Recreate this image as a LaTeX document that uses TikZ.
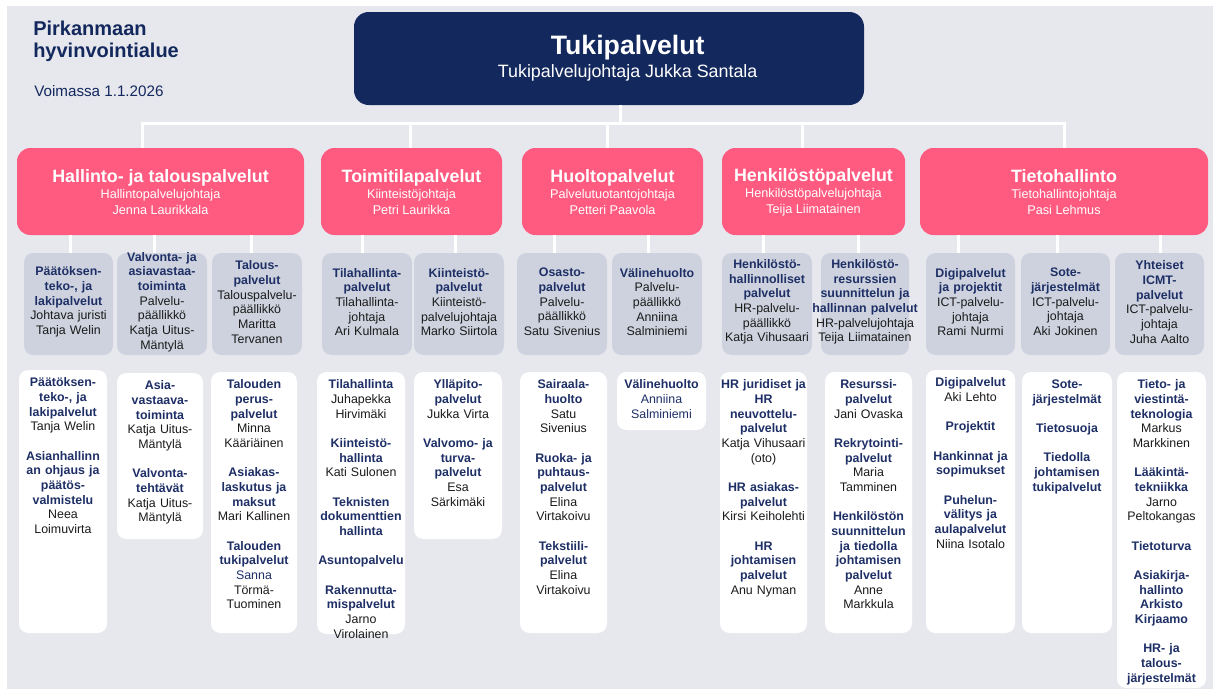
\documentclass[tikz,border=0pt]{standalone}
\usepackage{fontspec}
\setmainfont{Liberation Sans}
\usetikzlibrary{positioning,fit}

\definecolor{pageback}{HTML}{E7E8EE}
\definecolor{pirnavy}{HTML}{13285D}
\definecolor{pirpink}{HTML}{FF5A7F}
\definecolor{unitgrey}{HTML}{CDD2DE}
\definecolor{headtext}{HTML}{1E2F66}
\definecolor{nametext}{HTML}{1A1A1A}

\pgfdeclarelayer{background}
\pgfsetlayers{background,main}

\newcommand{\hd}[1]{{\bfseries\color{headtext}#1}}
\newcommand{\nv}[1]{{\color{headtext}#1}}
\newcommand{\gap}{\\[11pt]}
\newcommand{\cardfont}{\fontsize{9.3}{11}\selectfont}
\newcommand{\areatitle}{\fontsize{13.4}{12}\selectfont\bfseries}

\tikzset{
  every node/.style={inner sep=0pt},
  leafbox/.style={rounded corners=7pt, fill=#1},
  mainbox/.style={leafbox=pirnavy, rounded corners=11pt},
  areabox/.style={leafbox=pirpink, rounded corners=10pt},
  areatext/.style={text=white, align=center, font=\fontsize{9.5}{12}\selectfont},
  unitbox/.style={leafbox=unitgrey},
  unittext/.style={text width=84pt, text=nametext, align=center, font=\cardfont},
  teambox/.style={leafbox=white},
  teamtext/.style={anchor=north, text width=80pt, text=nametext, align=center, font=\cardfont},
  link/.style={draw=white, line width=2.25pt},
}

\begin{document}
\begin{tikzpicture}[x=0.75pt, y=-0.75pt]
\useasboundingbox (0,0) rectangle (1213,689);
\fill[white] (0,0) rectangle (1213,689);
\fill[pageback] (7,6) rectangle (1213,689);

% header
\node[anchor=north west, text=pirnavy, align=left, font=\fontsize{15}{16.5}\selectfont\bfseries]
  (org) at (33,21) {Pirkanmaan\\hyvinvointialue};
\node[anchor=west, text=pirnavy, font=\fontsize{11.4}{13}\selectfont] (valid) at (34,91) {Voimassa 1.1.2026};

% top level
\node[mainbox, fit={(354,12) (864,105)}] (tuki) {};
\node[text=white, align=center, font=\fontsize{13.4}{17.25}\selectfont] (tukiname) at ([xshift=14pt]tuki.center)
  {{\fontsize{20}{20}\selectfont\bfseries Tukipalvelut}\\Tukipalvelujohtaja Jukka Santala};

% areas
\node[areabox, fit={(17,148) (304,235)}] (hal) {};
\node[areabox, fit={(321,148) (502,235)}] (toim) {};
\node[areabox, fit={(522,148) (703,235)}] (huol) {};
\node[areabox, fit={(722,148) (905,235)}] (henk) {};
\node[areabox, fit={(920,148) (1208,235)}] (tieto) {};

\node[areatext] (hal-txt) at ([yshift=-0.75pt]hal.center)
  {{\areatitle Hallinto- ja talouspalvelut}\\Hallintopalvelujohtaja\\Jenna Laurikkala};
\node[areatext] (toim-txt) at ([yshift=-0.75pt]toim.center)
  {{\areatitle Toimitilapalvelut}\\Kiinteistöjohtaja\\Petri Laurikka};
\node[areatext] (huol-txt) at ([yshift=-0.75pt]huol.center)
  {{\areatitle Huoltopalvelut}\\Palvelutuotantojohtaja\\Petteri Paavola};
\node[areatext] (henk-txt) at ([yshift=-0.75pt]henk.center)
  {{\areatitle Henkilöstöpalvelut}\\Henkilöstöpalvelujohtaja\\Teija Liimatainen};
\node[areatext] (tieto-txt) at ([yshift=-0.75pt]tieto.center)
  {{\areatitle Tietohallinto}\\Tietohallintojohtaja\\Pasi Lehmus};

% units
\node[unitbox, fit={(24,253) (113,355)}] (ulaki) {};
\node[unitbox, fit={(117,253) (207,355)}] (uvalvo) {};
\node[unitbox, fit={(212,253) (302,355)}] (utalous) {};
\node[unitbox, fit={(322,253) (412,355)}] (utila) {};
\node[unitbox, fit={(414,253) (504,355)}] (ukiint) {};
\node[unitbox, fit={(517,253) (607,355)}] (uosasto) {};
\node[unitbox, fit={(612,253) (702,355)}] (uvaline) {};
\node[unitbox, fit={(722,253) (812,355)}] (uhrhal) {};
\node[unitbox, fit={(821,253) (909,355)}] (uhrres) {};
\node[unitbox, fit={(926,253) (1015,355)}] (udigi) {};
\node[unitbox, fit={(1021,253) (1110,355)}] (usote) {};
\node[unitbox, fit={(1115,253) (1204,355)}] (uicmt) {};

\node[unittext] (ulaki-txt) at ([yshift=1.5pt]ulaki.center)
  {\hd{Päätöksen-\\teko-, ja\\lakipalvelut}\\Johtava juristi\\Tanja Welin};
\node[unittext] (uvalvo-txt) at ([yshift=1.5pt]uvalvo.center)
  {\hd{Valvonta- ja\\asiavastaa-\\toiminta}\\Palvelu-\\päällikkö\\Katja Uitus-\\Mäntylä};
\node[unittext] (utalous-txt) at ([yshift=1.5pt]utalous.center)
  {\hd{Talous-\\palvelut}\\Talouspalvelu-\\päällikkö\\Maritta\\Tervanen};
\node[unittext] (utila-txt) at ([yshift=1.5pt]utila.center)
  {\hd{Tilahallinta-\\palvelut}\\Tilahallinta-\\johtaja\\Ari Kulmala};
\node[unittext] (ukiint-txt) at ([yshift=1.5pt]ukiint.center)
  {\hd{Kiinteistö-\\palvelut}\\Kiinteistö-\\palvelujohtaja\\Marko Siirtola};
\node[unittext] (uosasto-txt) at ([yshift=1.5pt]uosasto.center)
  {\hd{Osasto-\\palvelut}\\Palvelu-\\päällikkö\\Satu Sivenius};
\node[unittext] (uvaline-txt) at ([yshift=1.5pt]uvaline.center)
  {\hd{Välinehuolto}\\Palvelu-\\päällikkö\\Anniina\\Salminiemi};
\node[unittext] (uhrhal-txt) at ([yshift=1.5pt]uhrhal.center)
  {\hd{Henkilöstö-\\hallinnolliset\\palvelut}\\HR-palvelu-\\päällikkö\\Katja Vihusaari};
\node[unittext] (uhrres-txt) at ([yshift=1.5pt]uhrres.center)
  {\hd{Henkilöstö-\\resurssien\\suunnittelun ja\\hallinnan palvelut}\\HR-palvelujohtaja\\Teija Liimatainen};
\node[unittext] (udigi-txt) at ([yshift=1.5pt]udigi.center)
  {\hd{Digipalvelut\\ja projektit}\\ICT-palvelu-\\johtaja\\Rami Nurmi};
\node[unittext] (usote-txt) at ([yshift=1.5pt]usote.center)
  {\hd{Sote-\\järjestelmät}\\ICT-palvelu-\\johtaja\\Aki Jokinen};
\node[unittext] (uicmt-txt) at ([yshift=1.5pt]uicmt.center)
  {\hd{Yhteiset\\ICMT-\\palvelut}\\ICT-palvelu-\\johtaja\\Juha Aalto};

% teams
\node[teambox, fit={(19,370) (107,633)}] (tlaki) {};
\node[teambox, fit={(117,373) (203,539)}] (tvalvo) {};
\node[teambox, fit={(211,372) (297,633)}] (ttalous) {};
\node[teambox, fit={(317,372) (405,634)}] (ttila) {};
\node[teambox, fit={(414,372) (502,539)}] (tkiint) {};
\node[teambox, fit={(520,372) (607,633)}] (tosasto) {};
\node[teambox, fit={(617,372) (706,430)}] (tvaline) {};
\node[teambox, fit={(720,372) (807,633)}] (thrhal) {};
\node[teambox, fit={(825,372) (912,633)}] (thrres) {};
\node[teambox, fit={(926,370) (1015,633)}] (tdigi) {};
\node[teambox, fit={(1022,372) (1112,633)}] (tsote) {};
\node[teambox, fit={(1117,372) (1206,688)}] (ticmt) {};

\node[teamtext] (tlaki-txt) at ([yshift=-6pt]tlaki.north)
  {\hd{Päätöksen-\\teko-, ja\\lakipalvelut}\\Tanja Welin\gap
   \hd{Asianhallinn\\an ohjaus ja\\päätös-\\valmistelu}\\Neea\\Loimuvirta};
\node[teamtext] (tvalvo-txt) at ([yshift=-6pt]tvalvo.north)
  {\hd{Asia-\\vastaava-\\toiminta}\\Katja Uitus-\\Mäntylä\gap
   \hd{Valvonta-\\tehtävät}\\Katja Uitus-\\Mäntylä};
\node[teamtext] (ttalous-txt) at ([yshift=-6pt]ttalous.north)
  {\hd{Talouden\\perus-\\palvelut}\\Minna\\Kääriäinen\gap
   \hd{Asiakas-\\laskutus ja\\maksut}\\Mari Kallinen\gap
   \hd{Talouden\\tukipalvelut}\\\nv{Sanna}\\Törmä-\\Tuominen};
\node[teamtext] (ttila-txt) at ([yshift=-6pt]ttila.north)
  {\hd{Tilahallinta}\\Juhapekka\\Hirvimäki\gap
   \hd{Kiinteistö-\\hallinta}\\Kati Sulonen\gap
   \hd{Teknisten\\dokumenttien\\hallinta}\gap
   \hd{Asuntopalvelu}\gap
   \hd{Rakennutta-\\mispalvelut}\\Jarno\\Virolainen};
\node[teamtext] (tkiint-txt) at ([yshift=-6pt]tkiint.north)
  {\hd{Ylläpito-\\palvelut}\\Jukka Virta\gap
   \hd{Valvomo- ja\\turva-\\palvelut}\\Esa\\Särkimäki};
\node[teamtext] (tosasto-txt) at ([yshift=-6pt]tosasto.north)
  {\hd{Sairaala-\\huolto}\\Satu\\Sivenius\gap
   \hd{Ruoka- ja\\puhtaus-\\palvelut}\\Elina\\Virtakoivu\gap
   \hd{Tekstiili-\\palvelut}\\Elina\\Virtakoivu};
\node[teamtext] (tvaline-txt) at ([yshift=-6pt]tvaline.north)
  {\hd{Välinehuolto}\\\nv{Anniina}\\\nv{Salminiemi}};
\node[teamtext] (thrhal-txt) at ([yshift=-6pt]thrhal.north)
  {\hd{HR juridiset ja\\HR\\neuvottelu-\\palvelut}\\Katja Vihusaari\\(oto)\gap
   \hd{HR asiakas-\\palvelut}\\Kirsi Keiholehti\gap
   \hd{HR\\johtamisen\\palvelut}\\Anu Nyman};
\node[teamtext] (thrres-txt) at ([yshift=-6pt]thrres.north)
  {\hd{Resurssi-\\palvelut}\\Jani Ovaska\gap
   \hd{Rekrytointi-\\palvelut}\\Maria\\Tamminen\gap
   \hd{Henkilöstön\\suunnittelun\\ja tiedolla\\johtamisen\\palvelut}\\Anne\\Markkula};
\node[teamtext] (tdigi-txt) at ([yshift=-6pt]tdigi.north)
  {\hd{Digipalvelut}\\Aki Lehto\gap
   \hd{Projektit}\gap
   \hd{Hankinnat ja\\sopimukset}\gap
   \hd{Puhelun-\\välitys ja\\aulapalvelut}\\Niina Isotalo};
\node[teamtext] (tsote-txt) at ([yshift=-6pt]tsote.north)
  {\hd{Sote-\\järjestelmät}\gap
   \hd{Tietosuoja}\gap
   \hd{Tiedolla\\johtamisen\\tukipalvelut}};
\node[teamtext] (ticmt-txt) at ([yshift=-6pt]ticmt.north)
  {\hd{Tieto- ja\\viestintä-\\teknologia}\\Markus\\Markkinen\gap
   \hd{Lääkintä-\\tekniikka}\\Jarno\\Peltokangas\gap
   \hd{Tietoturva}\gap
   \hd{Asiakirja-\\hallinto\\Arkisto\\Kirjaamo}\gap
   \hd{HR- ja\\talous-\\järjestelmät}};

% square corners of the leaf shapes
\begin{pgfonlayer}{background}
\foreach \n/\c in {tuki/pirnavy, hal/pirpink, toim/pirpink, huol/pirpink, henk/pirpink, tieto/pirpink,
    ulaki/unitgrey, uvalvo/unitgrey, utalous/unitgrey, utila/unitgrey, ukiint/unitgrey, uosasto/unitgrey,
    uvaline/unitgrey, uhrhal/unitgrey, uhrres/unitgrey, udigi/unitgrey, usote/unitgrey, uicmt/unitgrey,
    tlaki/white, tvalvo/white, ttalous/white, ttila/white, tkiint/white, tosasto/white,
    tvaline/white, thrhal/white, thrres/white, tdigi/white, tsote/white, ticmt/white}
  {\fill[\c] (\n.north east) rectangle ++(-15,15);
   \fill[\c] (\n.south west) rectangle ++(15,-15);}
\end{pgfonlayer}

% connectors
\coordinate (bus) at (620,123);
\coordinate (busL) at (142,123);
\coordinate (busR) at (1064,123);
\draw[link] (tuki.south -| bus) -- (bus);
\draw[link] (hal.north -| busL) -- (busL) -- (busR) -- (tieto.north -| busR);
\foreach \a/\sx in {toim/410, huol/607, henk/802}
  {\coordinate (drop) at (\sx,123);
   \draw[link] (drop) -- (\a.north -| drop);}
\foreach \a/\u/\sx in {hal/ulaki/70, hal/uvalvo/154, hal/utalous/251, toim/utila/362, toim/ukiint/455,
    huol/uosasto/554, huol/uvaline/648, henk/uhrhal/763, henk/uhrres/858,
    tieto/udigi/958, tieto/usote/1057, tieto/uicmt/1160}
  {\coordinate (stub) at (\sx,0);
   \draw[link] (\a.south -| stub) -- (\u.north -| stub);}
\end{tikzpicture}
\end{document}
